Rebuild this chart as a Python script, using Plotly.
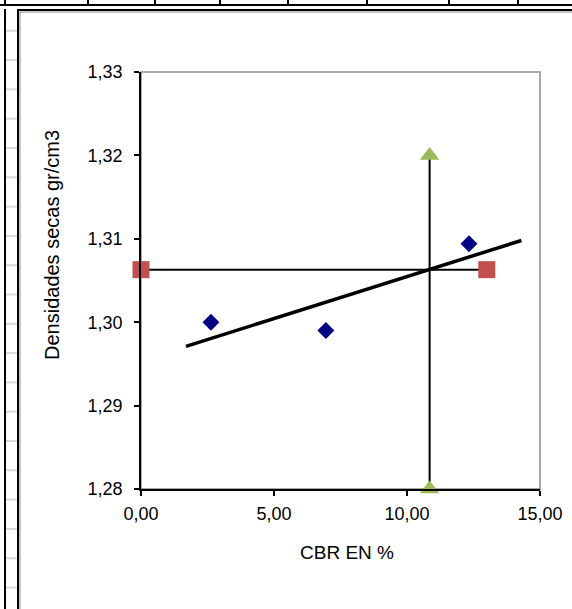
import plotly.graph_objects as go

# Figure geometry (pixels)
W, H = 572, 609
ML, MR, MT, MB = 141, 32, 72, 120
PW, PH = W - ML - MR, H - MT - MB

# Measured CBR / dry density points
cbr = [2.63, 6.95, 12.33]
densidad = [1.3000, 1.2990, 1.3094]

# Linear trend of density vs CBR
trend_x = [1.69, 14.3]
trend_y = [1.2971, 1.3098]

# Design density (horizontal reference)
dens_x = [0.0, 13.0]
dens_y = [1.3063, 1.3063]

# CBR at design density (vertical reference)
cbr_x = [10.85, 10.85]
cbr_y = [1.32, 1.28]

x_ticks = [0, 5, 10, 15]
y_ticks = [1.28, 1.29, 1.30, 1.31, 1.32, 1.33]

FONT = "Liberation Sans, Arial, sans-serif"


def px(x):
    return (x - ML) / PW


def py(y):
    return (H - MB - y) / PH


fig = go.Figure()

fig.add_trace(go.Scatter(
    x=dens_x, y=dens_y, mode="lines+markers",
    line=dict(color="black", width=2),
    marker=dict(symbol="square", size=17, color="#C0504D"),
    cliponaxis=False, showlegend=False, hoverinfo="skip"))

fig.add_trace(go.Scatter(
    x=cbr_x, y=cbr_y, mode="lines+markers",
    line=dict(color="black", width=2),
    marker=dict(symbol="triangle-up", size=17, color="#9BBB59"),
    cliponaxis=False, showlegend=False, hoverinfo="skip"))

fig.add_trace(go.Scatter(
    x=trend_x, y=trend_y, mode="lines",
    line=dict(color="black", width=3.5),
    cliponaxis=False, showlegend=False, hoverinfo="skip"))

fig.add_trace(go.Scatter(
    x=cbr, y=densidad, mode="markers",
    marker=dict(symbol="diamond", size=13, color="#000080"),
    cliponaxis=False, showlegend=False))

shapes = []
# plot-area border (top/right visible in grey)
shapes.append(dict(type="rect", xref="paper", yref="paper", x0=0, x1=1, y0=0, y1=1,
                   line=dict(color="#8c8c8c", width=1.5), layer="below"))

# sheet background: row line and column separators along the top
shapes.append(dict(type="line", xref="paper", yref="paper",
                   x0=px(0), x1=px(W), y0=py(5), y1=py(5),
                   line=dict(color="black", width=2)))
for cx in [5, 88, 155, 220, 288, 367, 449, 518]:
    shapes.append(dict(type="line", xref="paper", yref="paper",
                       x0=px(cx), x1=px(cx), y0=py(0), y1=py(5),
                       line=dict(color="black", width=2)))
# left column line and faint row separators
shapes.append(dict(type="line", xref="paper", yref="paper",
                   x0=px(5), x1=px(5), y0=py(9), y1=py(H),
                   line=dict(color="black", width=2)))
for k in range(20):
    ry = 587.5 - 29.3 * k
    shapes.append(dict(type="line", xref="paper", yref="paper",
                       x0=px(6), x1=px(17), y0=py(ry), y1=py(ry),
                       line=dict(color="#d9d9d9", width=2)))
# chart-area frame with soft inner shadow
shapes.append(dict(type="line", xref="paper", yref="paper",
                   x0=px(20), x1=px(W + 5), y0=py(12), y1=py(12),
                   line=dict(color="#b0b0b0", width=1.5)))
shapes.append(dict(type="line", xref="paper", yref="paper",
                   x0=px(20), x1=px(20), y0=py(12), y1=py(H + 5),
                   line=dict(color="#b0b0b0", width=1.5)))
shapes.append(dict(type="line", xref="paper", yref="paper",
                   x0=px(18), x1=px(W + 5), y0=py(10), y1=py(10),
                   line=dict(color="black", width=2)))
shapes.append(dict(type="line", xref="paper", yref="paper",
                   x0=px(18), x1=px(18), y0=py(9), y1=py(H + 5),
                   line=dict(color="black", width=2)))

annotations = [
    dict(text="CBR EN %", xref="paper", yref="paper", x=px(347), y=py(552),
         showarrow=False, xanchor="center", yanchor="middle",
         font=dict(family=FONT, size=19, color="black")),
    dict(text="Densidades secas gr/cm3", xref="paper", yref="paper",
         x=px(52), y=py(245), textangle=-90, showarrow=False,
         xanchor="center", yanchor="middle",
         font=dict(family=FONT, size=20, color="black")),
]

fig.update_layout(
    width=W, height=H,
    margin=dict(l=ML, r=MR, t=MT, b=MB, pad=0, autoexpand=False),
    paper_bgcolor="white", plot_bgcolor="white",
    separators=",.",
    font=dict(family=FONT, size=18, color="black"),
    shapes=shapes, annotations=annotations,
    xaxis=dict(range=[0, 15], tickvals=x_ticks, tickformat=".2f",
               automargin=False,
               showgrid=False, zeroline=False, showline=True,
               linecolor="black", linewidth=1.5,
               ticks="outside", ticklen=5, tickcolor="black", tickwidth=1.5,
               ticklabelstandoff=3,
               tickfont=dict(family=FONT, size=18, color="black")),
    yaxis=dict(range=[1.28, 1.33], tickvals=y_ticks, tickformat=".2f",
               automargin=False,
               showgrid=False, zeroline=False, showline=True,
               linecolor="black", linewidth=1.5,
               ticks="outside", ticklen=5, tickcolor="black", tickwidth=1.5,
               ticklabelstandoff=8,
               tickfont=dict(family=FONT, size=18, color="black")),
)

fig.write_html("out.html")
